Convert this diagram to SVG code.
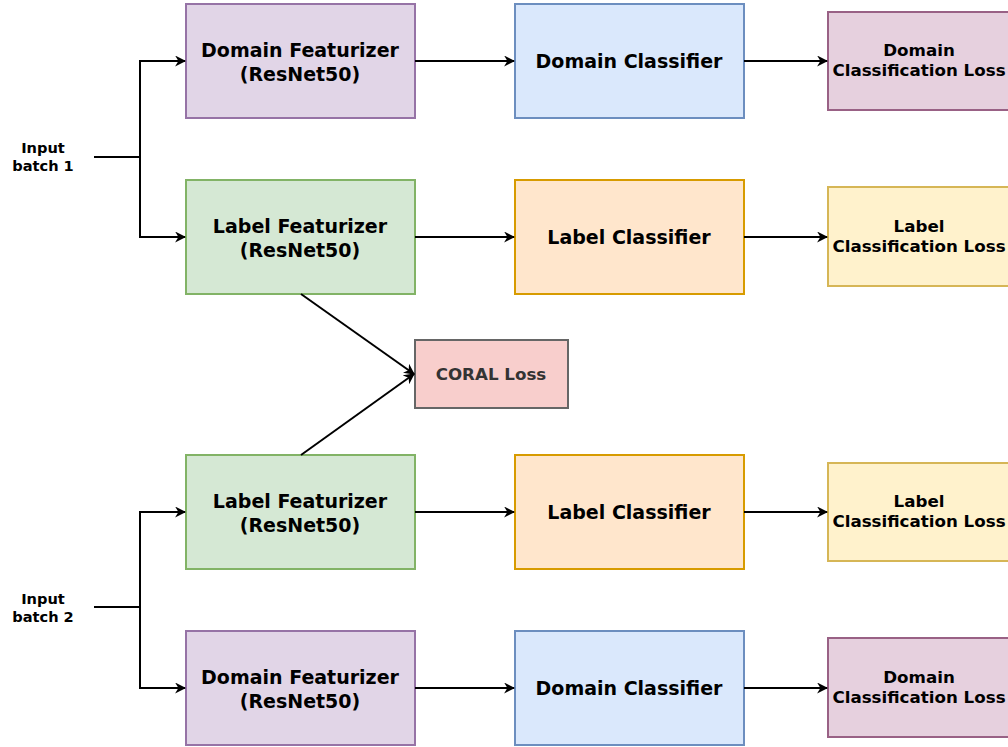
<svg xmlns="http://www.w3.org/2000/svg" width="1008" height="747" viewBox="0 0 1008 747">
<style>
text{font-family:"DejaVu Sans","Verdana",sans-serif;font-weight:bold;text-anchor:middle;fill:#000}
.big{font-size:19px}
.mid{font-size:16.7px}
.sm{font-size:14.6px}
.c{fill:none;stroke:#000;stroke-width:2}
.pur{fill:#e1d5e7;stroke:#9673a6;stroke-width:2}
.grn{fill:#d5e8d4;stroke:#82b366;stroke-width:2}
.blu{fill:#dae8fc;stroke:#6c8ebf;stroke-width:2}
.org{fill:#ffe6cc;stroke:#d79b00;stroke-width:2}
.yel{fill:#fff2cc;stroke:#d6b656;stroke-width:2}
.pnk{fill:#e6d0de;stroke:#996185;stroke-width:2}
.red{fill:#f8cecc;stroke:#666666;stroke-width:2}
</style>
<defs>
<marker id="a" viewBox="0 0 10 10" refX="9" refY="5" markerWidth="11" markerHeight="11" markerUnits="userSpaceOnUse" orient="auto">
<path d="M0,0 L10,5 L0,10 L3,5 Z" fill="#000"/>
</marker>
</defs>
<g id="in1"><text class="sm" x="43" y="153">Input</text><text class="sm" x="43" y="171">batch 1</text></g>
<g id="in2"><text class="sm" x="43" y="604">Input</text><text class="sm" x="43" y="622">batch 2</text></g>

<g id="df1"><rect class="pur" x="186" y="4" width="229" height="114"/><text class="big" x="300" y="57">Domain Featurizer</text><text class="big" x="300" y="81">(ResNet50)</text></g>
<g id="dc1"><rect class="blu" x="515" y="4" width="229" height="114"/><text class="big" x="629" y="68">Domain Classifier</text></g>
<g id="dl1"><rect class="pnk" x="828" y="12" width="182" height="98"/><text class="mid" x="919" y="56">Domain</text><text class="mid" x="919" y="76">Classification Loss</text></g>

<g id="lf1"><rect class="grn" x="186" y="180" width="229" height="114"/><text class="big" x="300" y="233">Label Featurizer</text><text class="big" x="300" y="257">(ResNet50)</text></g>
<g id="lc1"><rect class="org" x="515" y="180" width="229" height="114"/><text class="big" x="629" y="244">Label Classifier</text></g>
<g id="ll1"><rect class="yel" x="828" y="187" width="182" height="99"/><text class="mid" x="919" y="232">Label</text><text class="mid" x="919" y="252">Classification Loss</text></g>

<g id="coral"><rect class="red" x="415" y="340" width="153" height="68"/><text class="mid" x="491" y="380" style="fill:#333333">CORAL Loss</text></g>

<g id="lf2"><rect class="grn" x="186" y="455" width="229" height="114"/><text class="big" x="300" y="508">Label Featurizer</text><text class="big" x="300" y="532">(ResNet50)</text></g>
<g id="lc2"><rect class="org" x="515" y="455" width="229" height="114"/><text class="big" x="629" y="519">Label Classifier</text></g>
<g id="ll2"><rect class="yel" x="828" y="463" width="182" height="98"/><text class="mid" x="919" y="507">Label</text><text class="mid" x="919" y="527">Classification Loss</text></g>

<g id="df2"><rect class="pur" x="186" y="631" width="229" height="114"/><text class="big" x="300" y="684">Domain Featurizer</text><text class="big" x="300" y="708">(ResNet50)</text></g>
<g id="dc2"><rect class="blu" x="515" y="631" width="229" height="114"/><text class="big" x="629" y="695">Domain Classifier</text></g>
<g id="dl2"><rect class="pnk" x="828" y="638" width="182" height="99"/><text class="mid" x="919" y="683">Domain</text><text class="mid" x="919" y="703">Classification Loss</text></g>

<g id="connectors">
<path class="c" d="M94,157 H140"/>
<path class="c" d="M140,157 V61 H185" marker-end="url(#a)"/>
<path class="c" d="M140,157 V237 H185" marker-end="url(#a)"/>
<path class="c" d="M94,607 H140"/>
<path class="c" d="M140,607 V512 H185" marker-end="url(#a)"/>
<path class="c" d="M140,607 V688 H185" marker-end="url(#a)"/>
<path class="c" d="M415,61 H514" marker-end="url(#a)"/>
<path class="c" d="M744,61 H827" marker-end="url(#a)"/>
<path class="c" d="M415,237 H514" marker-end="url(#a)"/>
<path class="c" d="M744,237 H827" marker-end="url(#a)"/>
<path class="c" d="M415,512 H514" marker-end="url(#a)"/>
<path class="c" d="M744,512 H827" marker-end="url(#a)"/>
<path class="c" d="M415,688 H514" marker-end="url(#a)"/>
<path class="c" d="M744,688 H827" marker-end="url(#a)"/>
<path class="c" d="M301,294 L414,374" marker-end="url(#a)"/>
<path class="c" d="M301,455 L414,374" marker-end="url(#a)"/>
</g>
</svg>
